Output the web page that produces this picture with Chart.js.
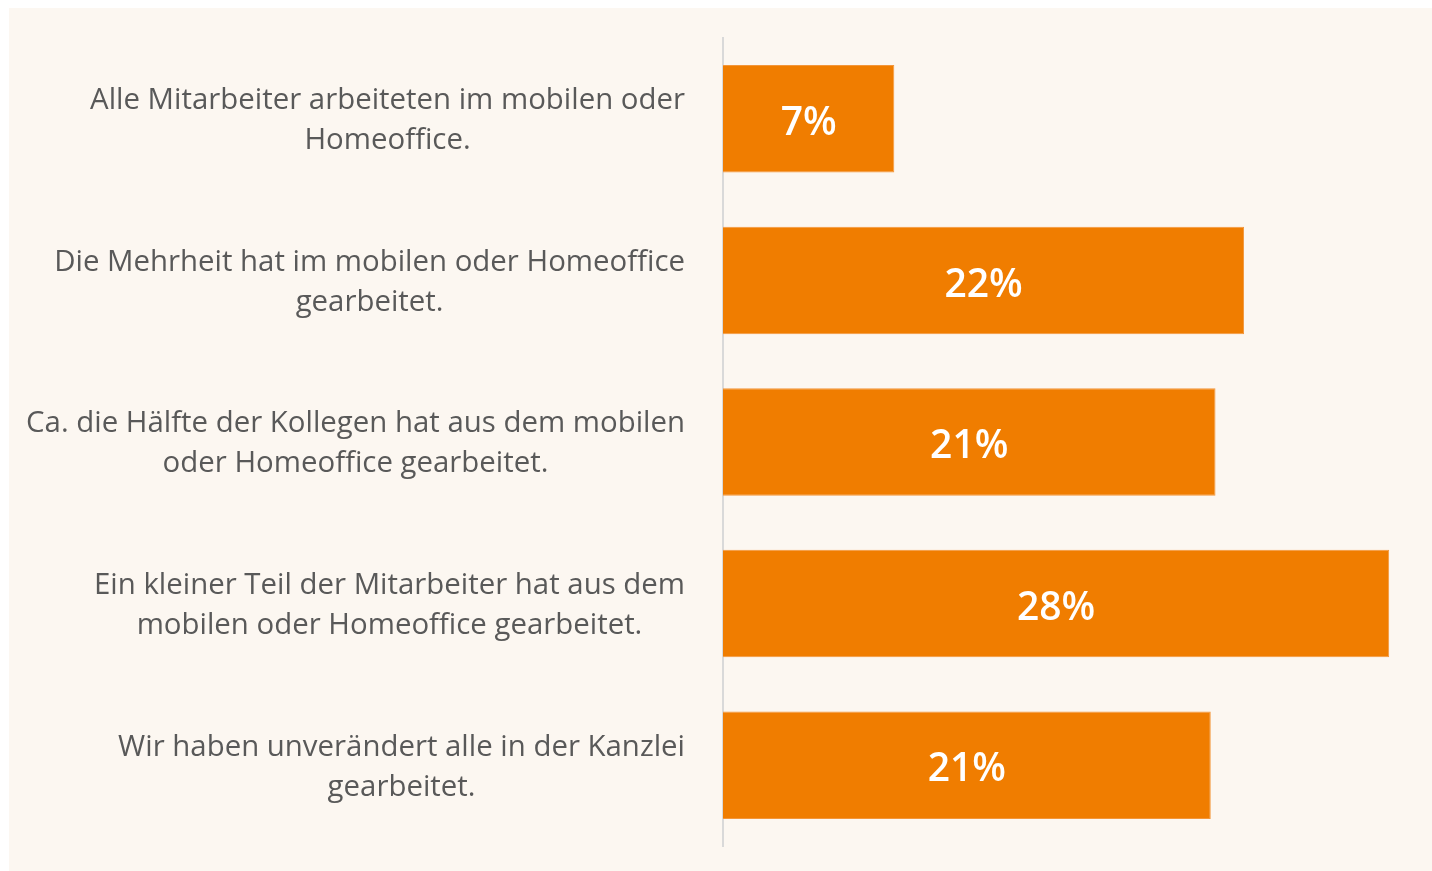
<!DOCTYPE html>
<html>
<head>
<meta charset="utf-8">
<script src="https://cdn.jsdelivr.net/npm/chart.js@4"></script>
<style>
  html, body { margin: 0; padding: 0; background: #ffffff; }
  #wrap { position: absolute; left: 9px; top: 8px; width: 1423px; height: 863px; background: #FCF7F1; }
  canvas { display: block; }
</style>
</head>
<body>
<div id="wrap"><canvas id="c" width="1423" height="863"></canvas></div>
<script>
const categories = [
  ["Alle Mitarbeiter arbeiteten im mobilen oder", "Homeoffice."],
  ["Die Mehrheit hat im mobilen oder Homeoffice", "gearbeitet."],
  ["Ca. die Hälfte der Kollegen hat aus dem mobilen", "oder Homeoffice gearbeitet."],
  ["Ein kleiner Teil der Mitarbeiter hat aus dem", "mobilen oder Homeoffice gearbeitet."],
  ["Wir haben unverändert alle in der Kanzlei", "gearbeitet."]
];
const values = [7.2, 21.9, 20.7, 28.0, 20.5];
const valueLabels = ["7%", "22%", "21%", "28%", "21%"];

const FONT = "'Open Sans', 'Noto Sans', sans-serif";

const categoryLabelPlugin = {
  id: 'categoryLabels',
  afterDraw(chart) {
    const ctx = chart.ctx;
    const y = chart.scales.y;
    const rightEdge = chart.chartArea.left - 38;
    ctx.save();
    ctx.font = "400 29.4px " + FONT;
    ctx.fillStyle = '#595959';
    ctx.textBaseline = 'middle';
    ctx.textAlign = 'center';
    const lh = 40;
    categories.forEach((lines, i) => {
      const cy = y.getPixelForValue(i) + 2;
      const w = Math.max(...lines.map(l => ctx.measureText(l).width));
      const cx = rightEdge - w / 2;
      const startY = cy - (lines.length - 1) * lh / 2;
      lines.forEach((l, k) => ctx.fillText(l, cx, startY + k * lh));
    });
    ctx.restore();
  }
};

const valueLabelPlugin = {
  id: 'valueLabels',
  afterDatasetsDraw(chart) {
    const ctx = chart.ctx;
    const meta = chart.getDatasetMeta(0);
    ctx.save();
    ctx.font = "600 39px " + FONT;
    ctx.fillStyle = '#ffffff';
    ctx.textAlign = 'center';
    ctx.textBaseline = 'middle';
    meta.data.forEach((bar, i) => {
      const cx = (bar.base + bar.x) / 2;
      ctx.fillText(valueLabels[i], cx, bar.y + 5);
    });
    ctx.restore();
  }
};

new Chart(document.getElementById('c'), {
  type: 'bar',
  data: {
    labels: categories,
    datasets: [{
      data: values,
      backgroundColor: '#F07D00',
      borderColor: '#F3963A',
      borderWidth: 1,
      barPercentage: 0.665,
      categoryPercentage: 1.0
    }]
  },
  options: {
    indexAxis: 'y',
    responsive: false,
    animation: false,
    layout: { padding: { left: 706, right: 19, top: 30, bottom: 25 } },
    plugins: { legend: { display: false }, tooltip: { enabled: false } },
    scales: {
      x: { display: false, min: 0, max: 29 },
      y: {
        ticks: { display: false },
        grid: { display: false },
        border: { display: true, color: '#D9D9D9', width: 2 }
      }
    }
  },
  plugins: [categoryLabelPlugin, valueLabelPlugin]
});
</script>
</body>
</html>
